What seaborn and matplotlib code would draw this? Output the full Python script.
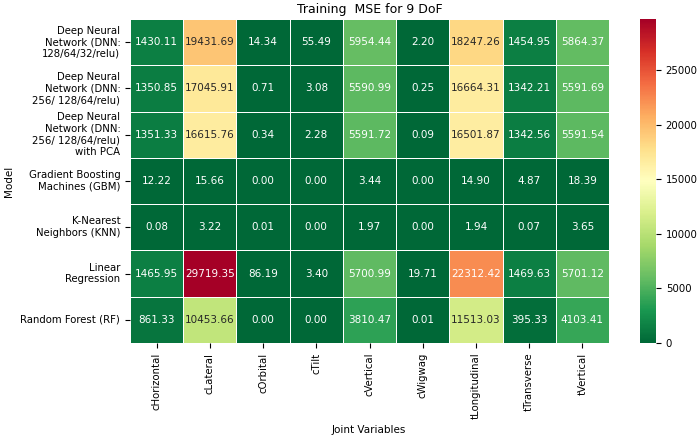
import seaborn as sns
import pandas as pd
import numpy as np
from matplotlib import pyplot as plt

models = ['Deep Neural\nNetwork (DNN:\n128/64/32/relu)',
          'Deep Neural\nNetwork (DNN:\n256/ 128/64/relu)',
          'Deep Neural\nNetwork (DNN:\n256/ 128/64/relu)\nwith PCA',
          'Gradient Boosting\nMachines (GBM)',
          'K-Nearest\nNeighbors (KNN)',
          'Linear\nRegression',
          'Random Forest (RF)']
joints = ['cHorizontal', 'cLateral', 'cOrbital', 'cTilt', 'cVertical',
          'cWigwag', 'tLongitudinal', 'tTransverse', 'tVertical']

dnn_1 = [1430.11, 19431.69, 14.34, 55.49, 5954.44, 2.20, 18247.26, 1454.95, 5864.37]
dnn_2 = [1350.85, 17045.91, 0.71, 3.08, 5590.99, 0.25, 16664.31, 1342.21, 5591.69]
dnn_pca = [1351.33, 16615.76, 0.34, 2.28, 5591.72, 0.09, 16501.87, 1342.56, 5591.54]
gbm = [12.22, 15.66, 0.00, 0.00, 3.44, 0.00, 14.90, 4.87, 18.39]
knn = [0.08, 3.22, 0.01, 0.00, 1.97, 0.00, 1.94, 0.07, 3.65]
linreg = [1465.95, 29719.35, 86.19, 3.40, 5700.99, 19.71, 22312.42, 1469.63, 5701.12]
rf = [861.33, 10453.66, 0.00, 0.00, 3810.47, 0.01, 11513.03, 395.33, 4103.41]

mse = pd.DataFrame([dnn_1, dnn_2, dnn_pca, gbm, knn, linreg, rf],
                   index=models, columns=joints)

plt.rcParams['font.size'] = 7.3
fig = plt.figure(figsize=(6.99, 4.37), dpi=100)
W, H = 699, 437
ax = fig.add_axes([130 / W, (H - 343) / H, 479 / W, 324 / H])
cax = fig.add_axes([640 / W, (H - 343) / H, 16 / W, 324 / H])

sns.heatmap(mse, annot=True, fmt='.2f', cmap='RdYlGn_r', linewidths=0.6,
            linecolor='white', ax=ax, cbar_ax=cax, annot_kws={'size': 7.5})
ax.set_title('Training  MSE for 9 DoF', fontsize=9, pad=4)
ax.set_xlabel('Joint Variables', fontsize=7.5)
ax.set_ylabel('Model', fontsize=7.5)
ax.xaxis.set_label_coords((369 - 130) / 479, -(425 - 343) / 324)
ax.yaxis.set_label_coords(-(130 - 14) / 479, 0.5)
ax.tick_params(axis='x', rotation=90, labelsize=7.3)
ax.tick_params(axis='y', rotation=0, labelsize=7.3)
cax.tick_params(labelsize=7.3)

plt.savefig('out.png', dpi=100)
